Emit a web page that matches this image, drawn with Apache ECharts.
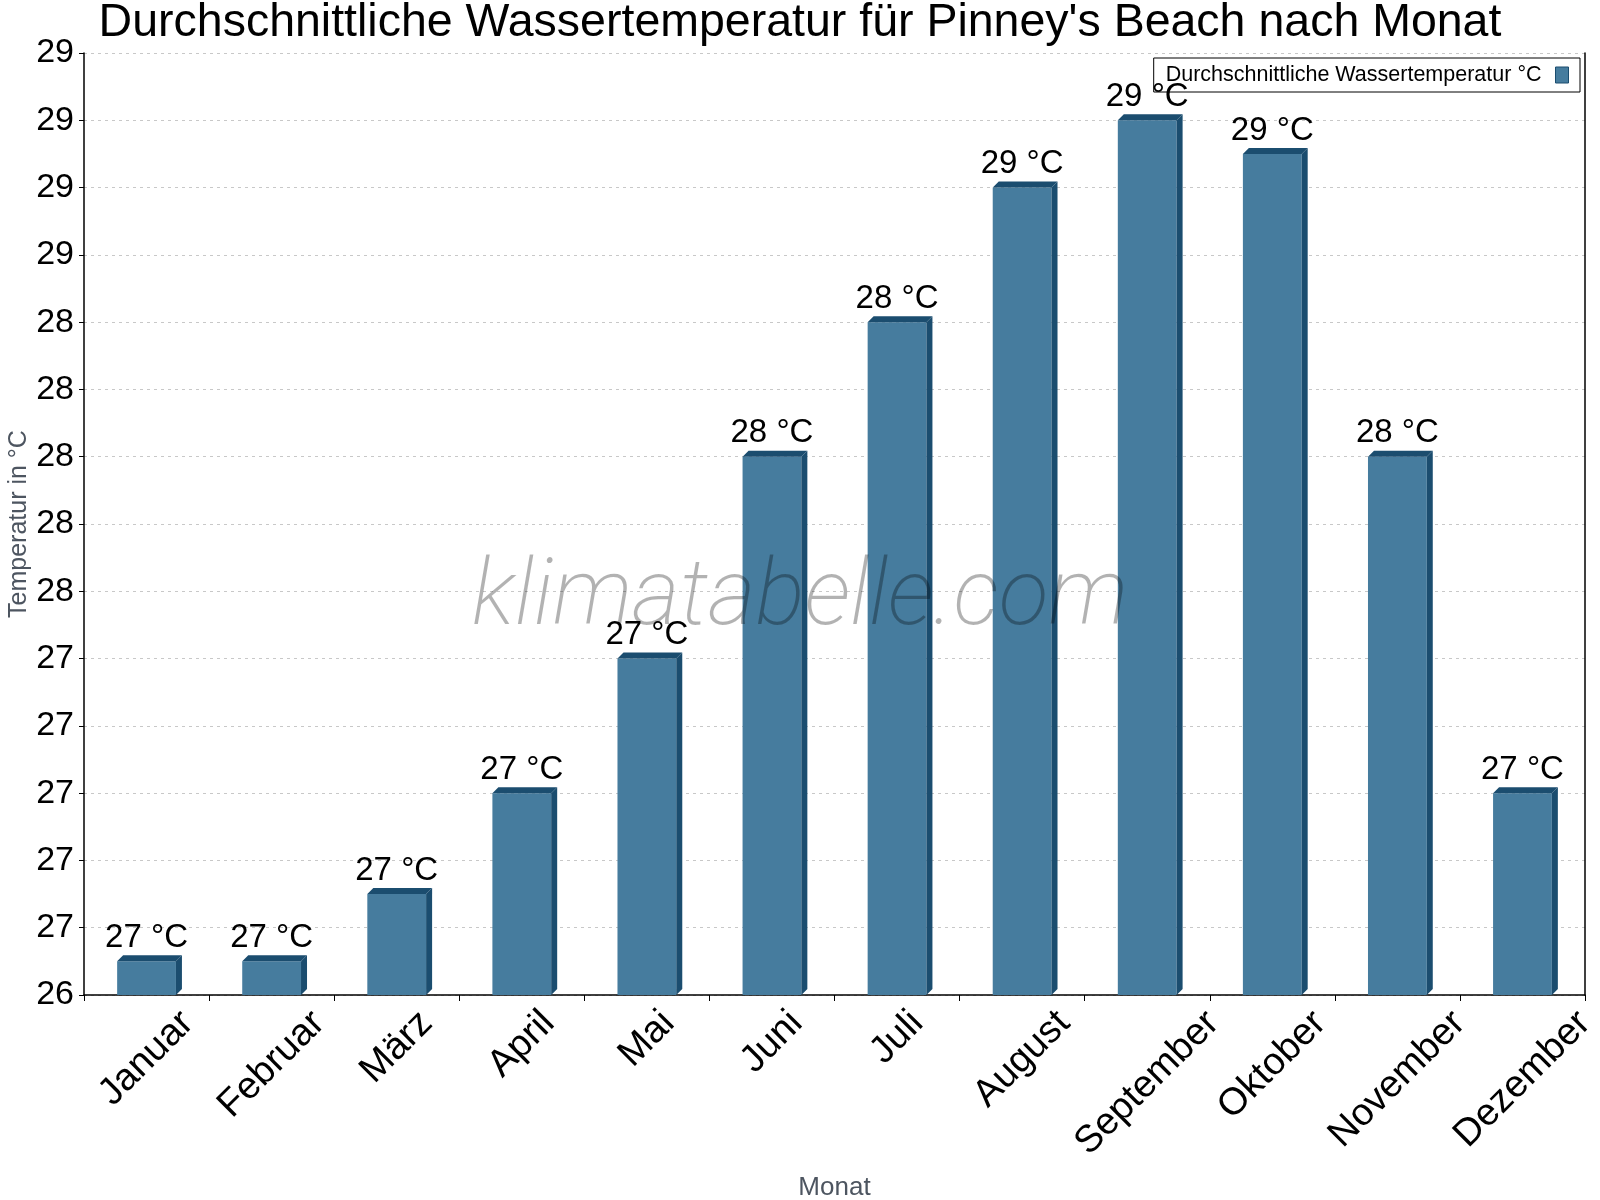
<!DOCTYPE html>
<html>
<head>
<meta charset="utf-8">
<script src="https://cdn.jsdelivr.net/npm/echarts@6/dist/echarts.min.js"></script>
<style>
html, body { margin: 0; padding: 0; background: #fff; }
#chart { width: 1600px; height: 1200px; }
</style>
</head>
<body>
<div id="chart"></div>
<script>
var months = ['Januar', 'Februar', 'März', 'April', 'Mai', 'Juni', 'Juli', 'August', 'September', 'Oktober', 'November', 'Dezember'];
var waterTemp = [26.5, 26.5, 26.7, 27.0, 27.4, 28.0, 28.4, 28.8, 29.0, 28.9, 28.0, 27.0];
var yMin = 26.4;
var yMax = 29.2;
var yStep = 0.2;

var font = '"Liberation Sans", Arial, sans-serif';
var front = '#467c9e';
var dark = '#1b4d6f';
var monthFontSize = 38;

var myChart = echarts.init(document.getElementById('chart'));

// measure label text so rotated month names can be centred under their bars
var measureCtx = document.createElement('canvas').getContext('2d');
function textWidth(txt, size) {
    measureCtx.font = size + 'px ' + font;
    return measureCtx.measureText(txt).width;
}

// top face and right side of each bar, for the 3D look
function renderBox(params, api) {
    var cx = api.value(0);
    var v = api.value(1);
    var top = api.coord([cx, v]);
    var base = api.coord([cx, yMin]);
    var w = api.size([1, 0])[0] * 0.47 / 2;
    var d = 6;
    var x = top[0], ty = top[1], by = base[1];
    return {
        type: 'group',
        children: [{
            type: 'polygon',
            shape: { points: [[x - w, ty], [x - w + d, ty - d], [x + w + d, ty - d], [x + w, ty]] },
            style: { fill: dark }
        }, {
            type: 'polygon',
            shape: { points: [[x + w, ty], [x + w + d, ty - d], [x + w + d, by - d], [x + w, by]] },
            style: { fill: dark }
        }]
    };
}

// month names rotated 45 degrees about their centre
function renderMonth(params, api) {
    var i = api.value(0);
    var p = api.coord([i, yMin]);
    var name = months[i];
    var tw = textWidth(name, monthFontSize);
    var half = (tw + monthFontSize * 0.85) * Math.SQRT1_2 / 2;
    return {
        type: 'text',
        x: p[0],
        y: p[1] + 11 + half,
        rotation: Math.PI / 4,
        style: {
            text: name,
            font: monthFontSize + 'px ' + font,
            fill: '#000',
            align: 'center',
            verticalAlign: 'middle'
        }
    };
}

myChart.setOption({
    animation: false,
    textStyle: { fontFamily: font },
    title: {
        text: "Durchschnittliche Wassertemperatur für Pinney's Beach nach Monat",
        left: 'center',
        top: -5,
        textStyle: { fontSize: 46.5, fontWeight: 'normal', color: '#000', fontFamily: font }
    },
    legend: {
        right: 20,
        top: 58,
        align: 'right',
        icon: 'rect',
        itemWidth: 13,
        itemHeight: 16,
        padding: [6, 11, 6, 12],
        borderColor: '#000',
        borderWidth: 1,
        borderRadius: 0,
        textStyle: { fontSize: 21.5, color: '#000', fontFamily: font, padding: [0, 9, 0, 0] },
        data: [{ name: 'Durchschnittliche Wassertemperatur °C', itemStyle: { borderColor: dark, borderWidth: 1 } }]
    },
    grid: { left: 84, right: 15, top: 53, bottom: 205, containLabel: false, outerBoundsMode: 'none' },
    xAxis: {
        type: 'category',
        data: months,
        name: 'Monat',
        nameLocation: 'middle',
        nameGap: 180,
        nameMoveOverlap: false,
        nameTextStyle: { fontSize: 26, color: '#4d5560', fontFamily: font },
        axisLine: { lineStyle: { color: '#000', width: 1.5 } },
        axisTick: { show: true, alignWithLabel: false, length: 6, lineStyle: { color: '#000' } },
        axisLabel: { show: false }
    },
    yAxis: [{
        type: 'value',
        min: yMin,
        max: yMax,
        interval: yStep,
        name: 'Temperatur in °C',
        nameLocation: 'middle',
        nameGap: 52,
        nameMoveOverlap: false,
        nameTextStyle: { fontSize: 25, color: '#4d5560', fontFamily: font },
        axisLine: { show: true, lineStyle: { color: '#000', width: 1.5 } },
        axisTick: { show: true, length: 5, lineStyle: { color: '#000' } },
        axisLabel: {
            fontSize: 34, color: '#000', margin: 10, fontFamily: font,
            formatter: function (v) { return Math.round(v); }
        },
        splitLine: { show: true, lineStyle: { color: '#c8c8c8', type: [3, 4] } }
    }, {
        type: 'value',
        min: yMin,
        max: yMax,
        interval: yStep,
        position: 'right',
        axisLine: { show: true, lineStyle: { color: '#000', width: 1.5 } },
        axisTick: { show: false },
        axisLabel: { show: false },
        splitLine: { show: false }
    }],
    graphic: [{
        type: 'text',
        left: 'center',
        top: 555,
        z: 100,
        style: {
            text: 'klimatabelle.com',
            font: 'italic 200 92px Roboto',
            fill: 'rgba(0,0,0,0.3)'
        }
    }],
    series: [{
        name: 'Durchschnittliche Wassertemperatur °C',
        type: 'bar',
        data: waterTemp,
        barWidth: '47%',
        itemStyle: { color: front },
        label: {
            show: true,
            position: 'top',
            distance: 7,
            fontSize: 33,
            color: '#000',
            fontFamily: font,
            formatter: function (p) { return Math.round(p.value) + ' °C'; }
        }
    }, {
        name: 'box',
        type: 'custom',
        renderItem: renderBox,
        data: waterTemp.map(function (v, i) { return [i, v]; }),
        z: 3
    }, {
        name: 'monthLabels',
        type: 'custom',
        renderItem: renderMonth,
        clip: false,
        silent: true,
        data: months.map(function (m, i) { return [i, yMin]; })
    }]
});
</script>
</body>
</html>
